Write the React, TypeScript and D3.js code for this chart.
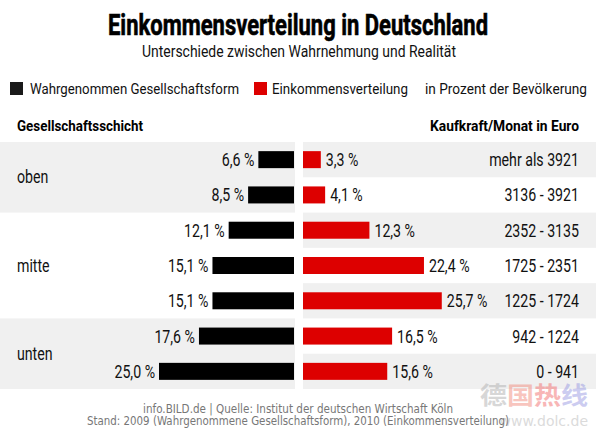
import React from "react";
import * as d3 from "d3";

const title = "Einkommensverteilung in Deutschland";
const subtitle = "Unterschiede zwischen Wahrnehmung und Realität";
const legendLabels = ["Wahrgenommen Gesellschaftsform", "Einkommensverteilung", "in Prozent der Bevölkerung"];
const leftHeader = "Gesellschaftsschicht";
const rightHeader = "Kaufkraft/Monat in Euro";
const incomeRanges = ["mehr als 3921", "3136 - 3921", "2352 - 3135", "1725 - 2351", "1225 - 1724", "942 - 1224", "0 - 941"];
const perceived = [6.6, 8.5, 12.1, 15.1, 15.1, 17.6, 25.0];
const actual = [3.3, 4.1, 12.3, 22.4, 25.7, 16.5, 15.6];
const groups = [
  { name: "oben", rows: [0, 1] },
  { name: "mitte", rows: [2, 3, 4] },
  { name: "unten", rows: [5, 6] },
];
const footer1 = "info.BILD.de | Quelle: Institut der deutschen Wirtschaft Köln";
const footer2 = "Stand: 2009 (Wahrgenommene Gesellschaftsform), 2010 (Einkommensverteilung)";

const W = 596;
const H = 435;
const NARROW = "Roboto, 'Noto Sans', sans-serif";
const FOOT = "'DejaVu Sans', sans-serif";
const RED = "#dd0000";
const BLACK = "#000000";
const BAND = "#f0f0f0";
const SX = 0.81;

const fmt = (v: number) => v.toFixed(1).replace(".", ",") + " %";

function NText(props: { x: number; y: number; anchor?: string; size?: number; weight?: string; children: React.ReactNode }) {
  const { x, y, anchor = "start", size = 17.5, weight = "normal", children } = props;
  return (
    <text
      transform={`translate(${x},${y}) scale(${SX},1)`}
      textAnchor={anchor}
      fontFamily={NARROW}
      fontSize={size}
      fontWeight={weight}
      fill="#111"
    >
      {children}
    </text>
  );
}

export default function App() {
  const rows = d3.range(incomeRanges.length);
  const y = d3.scaleBand<number>().domain(rows).range([142, 389]).padding(0);
  const bw = y.bandwidth();
  const barH = 17;
  const len = d3.scaleLinear().domain([0, 30]).range([0, 162]);
  const leftBase = 294;
  const rightBase = 303;
  const leftPanelEnd = 295;

  return (
    <svg
      width={W}
      height={H}
      style={{ position: "absolute", left: 0, top: 0, background: "#fff" }}
    >
      <rect x={0} y={0} width={W} height={H} fill="#fff" />
      {groups.map((g, gi) => {
        const y0 = y(g.rows[0])!;
        const y1 = y(g.rows[g.rows.length - 1])! + bw;
        return gi % 2 === 0 ? (
          <rect key={"gb" + gi} x={0} y={y0} width={leftPanelEnd} height={y1 - y0} fill={BAND} />
        ) : null;
      })}
      {rows.map((r) =>
        r % 2 === 0 ? (
          <rect key={"rb" + r} x={rightBase} y={y(r)!} width={W - rightBase} height={bw} fill={BAND} />
        ) : null
      )}

      <text x={298} y={35} textAnchor="middle" fontFamily={NARROW} fontWeight="bold" fontSize={29}
        textLength={380} lengthAdjust="spacingAndGlyphs" fill="#000" stroke="#000" strokeWidth={0.6}>{title}</text>
      <text x={299} y={57} textAnchor="middle" fontFamily={NARROW} fontSize={16.5}
        textLength={314} lengthAdjust="spacingAndGlyphs" fill="#111">{subtitle}</text>

      <rect x={10} y={82} width={13} height={13} fill="#1a1a1a" />
      <text x={30} y={94} fontFamily={NARROW} fontSize={15.5} textLength={209} lengthAdjust="spacingAndGlyphs" fill="#111">{legendLabels[0]}</text>
      <rect x={254} y={82} width={13} height={13} fill={RED} />
      <text x={272} y={94} fontFamily={NARROW} fontSize={15.5} textLength={136} lengthAdjust="spacingAndGlyphs" fill="#111">{legendLabels[1]}</text>
      <text x={425} y={94} fontFamily={NARROW} fontSize={15.5} textLength={162} lengthAdjust="spacingAndGlyphs" fill="#111">{legendLabels[2]}</text>

      <text x={17} y={131} fontFamily={NARROW} fontWeight="bold" fontSize={15} textLength={126} lengthAdjust="spacingAndGlyphs" fill="#000">{leftHeader}</text>
      <text x={430} y={131} fontFamily={NARROW} fontWeight="bold" fontSize={15} textLength={149} lengthAdjust="spacingAndGlyphs" fill="#000">{rightHeader}</text>

      {groups.map((g, gi) => {
        const y0 = y(g.rows[0])!;
        const y1 = y(g.rows[g.rows.length - 1])! + bw;
        return (
          <NText key={"gl" + gi} x={17} y={(y0 + y1) / 2 + 6}>{g.name}</NText>
        );
      })}

      {rows.map((r) => {
        const cy = y(r)! + bw / 2;
        const lw = len(perceived[r]);
        const rw = len(actual[r]);
        return (
          <g key={"row" + r}>
            <rect x={leftBase - lw} y={cy - barH / 2} width={lw} height={barH} fill={BLACK} />
            <NText x={leftBase - lw - 4} y={cy + 6.5} anchor="end">{fmt(perceived[r])}</NText>
            <rect x={rightBase} y={cy - barH / 2} width={rw} height={barH} fill={RED} />
            <NText x={rightBase + rw + 5} y={cy + 6.5}>{fmt(actual[r])}</NText>
            <NText x={579} y={cy + 6.5} anchor="end">{incomeRanges[r]}</NText>
          </g>
        );
      })}

      <g opacity={0.45}>
        <text x={480} y={404} fontFamily="'Noto Sans CJK SC', sans-serif" fontWeight="bold" fontSize={24} textLength={108} lengthAdjust="spacingAndGlyphs">
          <tspan fill="#a8a8a8">德</tspan>
          <tspan fill="#f08070">国</tspan>
          <tspan fill="#f06060">热</tspan>
          <tspan fill="#9090e0">线</tspan>
        </text>
        <text x={588} y={426} textAnchor="end" fontFamily="'DejaVu Sans', sans-serif" fontSize={14} fill="#b0b0b0">www.dolc.de</text>
      </g>

      <text x={298} y={413} textAnchor="middle" fontFamily={FOOT} fontSize={12} textLength={310} lengthAdjust="spacingAndGlyphs" fill="#777">{footer1}</text>
      <text x={298} y={425} textAnchor="middle" fontFamily={FOOT} fontSize={12} textLength={422} lengthAdjust="spacingAndGlyphs" fill="#777">{footer2}</text>
    </svg>
  );
}
